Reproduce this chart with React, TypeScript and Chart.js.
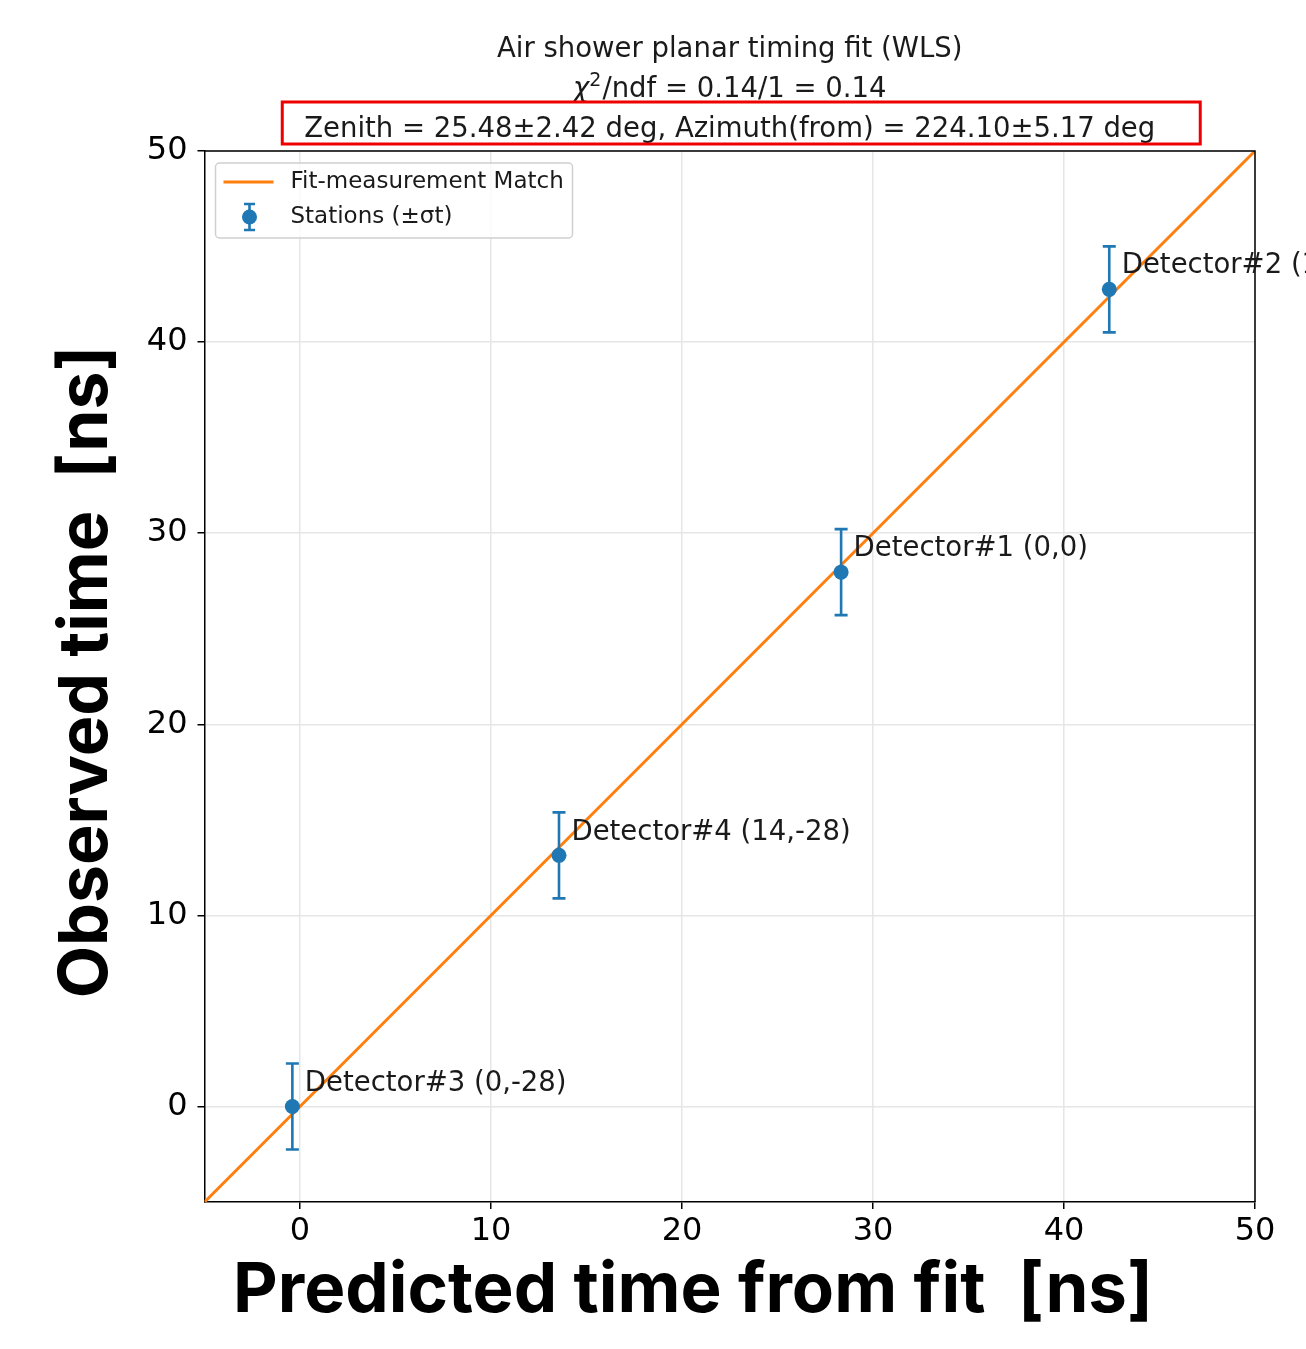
import React, { useEffect, useRef } from 'react';
import { Chart, registerables } from 'chart.js';
Chart.register(...registerables);

const predicted: number[] = [-0.4, 13.56, 28.33, 42.37];
const observed: number[] = [0.0, 13.14, 27.96, 42.76];
const sigma: number[] = [2.25, 2.25, 2.25, 2.25];
const detectorLabels: string[] = ['Detector#3 (0,-28)', 'Detector#4 (14,-28)', 'Detector#1 (0,0)', 'Detector#2 (14,0)'];
const matchLineX: number[] = [-5, 50];
const matchLineY: number[] = [-5, 50];
const tickValues: number[] = [0, 10, 20, 30, 40, 50];
const titleLine1 = 'Air shower planar timing fit (WLS)';
const chiSymbol = 'χ';
const chiSup = '2';
const chiRest = '/ndf = 0.14/1 = 0.14';
const titleLine3 = 'Zenith = 25.48±2.42 deg, Azimuth(from) = 224.10±5.17 deg';
const legendLabels: string[] = ['Fit-measurement Match', 'Stations (±σt)'];
const xTitle = 'Predicted time from fit  [ns]';
const yTitle = 'Observed time  [ns]';

const BLUE = '#1f77b4';
const ORANGE = '#ff7f0e';
const W = 1306;
const H = 1349;
const PLOT_L = 204.5;
const PLOT_R = 1255;
const PLOT_T = 151;
const PLOT_B = 1202;

export default function App() {
  const ref = useRef<HTMLCanvasElement | null>(null);
  useEffect(() => {
    const canvas = ref.current;
    if (!canvas) return;

    const drawErrorBar = (ctx: CanvasRenderingContext2D, x: number, y1: number, y2: number, cap: number, lw: number) => {
      ctx.beginPath();
      ctx.moveTo(x, y1);
      ctx.lineTo(x, y2);
      ctx.moveTo(x - cap, y1);
      ctx.lineTo(x + cap, y1);
      ctx.moveTo(x - cap, y2);
      ctx.lineTo(x + cap, y2);
      ctx.strokeStyle = BLUE;
      ctx.lineWidth = lw;
      ctx.stroke();
    };

    const deco = {
      id: 'deco',
      afterDatasetDraw(chart: any, args: any) {
        if (args.index !== 0) return;
        const ctx = chart.ctx as CanvasRenderingContext2D;
        const xs = chart.scales.x;
        const ys = chart.scales.y;
        ctx.save();
        for (let i = 0; i < predicted.length; i++) {
          const px = xs.getPixelForValue(predicted[i]);
          drawErrorBar(ctx, px, ys.getPixelForValue(observed[i] + sigma[i]), ys.getPixelForValue(observed[i] - sigma[i]), 6.5, 2.6);
        }
        ctx.restore();
      },
      afterDraw(chart: any) {
        const ctx = chart.ctx as CanvasRenderingContext2D;
        const xs = chart.scales.x;
        const ys = chart.scales.y;
        const ca = chart.chartArea;
        ctx.save();
        // spines top/right
        ctx.strokeStyle = '#000';
        ctx.lineWidth = 1.5;
        ctx.beginPath();
        ctx.moveTo(ca.left, ca.top);
        ctx.lineTo(ca.right, ca.top);
        ctx.lineTo(ca.right, ca.bottom);
        ctx.stroke();

        // annotations
        ctx.fillStyle = '#1a1a1a';
        ctx.font = '27.5px "DejaVu Sans"';
        ctx.textAlign = 'left';
        ctx.textBaseline = 'middle';
        for (let i = 0; i < predicted.length; i++) {
          const px = xs.getPixelForValue(predicted[i]);
          const py = ys.getPixelForValue(observed[i]);
          ctx.fillText(detectorLabels[i], px + 12.5, py - 23);
        }

        // title
        const cx = (ca.left + ca.right) / 2;
        ctx.fillStyle = '#1a1a1a';
        ctx.font = '27.5px "DejaVu Sans"';
        ctx.textAlign = 'center';
        ctx.textBaseline = 'alphabetic';
        ctx.fillText(titleLine1, cx, 57);
        // line 2 with superscript
        ctx.textAlign = 'left';
        ctx.font = 'italic 27.5px "DejaVu Sans"';
        const wChi = ctx.measureText(chiSymbol).width;
        ctx.font = '19px "DejaVu Sans"';
        const wSup = ctx.measureText(chiSup).width;
        ctx.font = '27.5px "DejaVu Sans"';
        const wRest = ctx.measureText(chiRest).width;
        let x0 = cx - (wChi + wSup + 1 + wRest) / 2;
        ctx.font = 'italic 27.5px "DejaVu Sans"';
        ctx.fillText(chiSymbol, x0, 97);
        x0 += wChi;
        ctx.font = '19px "DejaVu Sans"';
        ctx.fillText(chiSup, x0, 86);
        x0 += wSup + 1;
        ctx.font = '27.5px "DejaVu Sans"';
        ctx.fillText(chiRest, x0, 97);
        ctx.textAlign = 'center';
        ctx.fillText(titleLine3, cx, 137);
        const w3 = ctx.measureText(titleLine3).width;
        ctx.strokeStyle = '#ee0000';
        ctx.lineWidth = 3;
        ctx.strokeRect(cx - w3 / 2 - 22, 102, w3 + 22 + 45, 42);

        // legend
        const lx = ca.left + 11;
        const ly = ca.top + 12;
        const lw = 357;
        const lh = 75;
        ctx.beginPath();
        const r = 4;
        ctx.moveTo(lx + r, ly);
        ctx.lineTo(lx + lw - r, ly);
        ctx.arcTo(lx + lw, ly, lx + lw, ly + r, r);
        ctx.lineTo(lx + lw, ly + lh - r);
        ctx.arcTo(lx + lw, ly + lh, lx + lw - r, ly + lh, r);
        ctx.lineTo(lx + r, ly + lh);
        ctx.arcTo(lx, ly + lh, lx, ly + lh - r, r);
        ctx.lineTo(lx, ly + r);
        ctx.arcTo(lx, ly, lx + r, ly, r);
        ctx.closePath();
        ctx.fillStyle = 'rgba(255,255,255,0.8)';
        ctx.fill();
        ctx.strokeStyle = '#d0d0d0';
        ctx.lineWidth = 1.5;
        ctx.stroke();
        ctx.strokeStyle = ORANGE;
        ctx.lineWidth = 3;
        ctx.beginPath();
        ctx.moveTo(lx + 8, ly + 19);
        ctx.lineTo(lx + 58, ly + 19);
        ctx.stroke();
        drawErrorBar(ctx, lx + 34, ly + 41, ly + 67, 5.5, 2.6);
        ctx.fillStyle = BLUE;
        ctx.beginPath();
        ctx.arc(lx + 34, ly + 54, 7.5, 0, Math.PI * 2);
        ctx.fill();
        ctx.fillStyle = '#1a1a1a';
        ctx.font = '23px "DejaVu Sans"';
        ctx.textAlign = 'left';
        ctx.textBaseline = 'middle';
        ctx.fillText(legendLabels[0], lx + 75, ly + 19);
        ctx.fillText(legendLabels[1], lx + 75, ly + 54);

        // axis titles
        ctx.fillStyle = '#000';
        ctx.font = 'bold 69px Inter';
        ctx.textAlign = 'center';
        ctx.textBaseline = 'alphabetic';
        ctx.fillText(xTitle, 693, 1312);
        ctx.font = 'bold 68px Inter';
        ctx.translate(107, 672);
        ctx.rotate(-Math.PI / 2);
        ctx.fillText(yTitle, 0, 0);
        ctx.restore();
      },
    };

    const chart = new Chart(canvas, {
      type: 'scatter',
      data: {
        datasets: [
          {
            type: 'line',
            label: legendLabels[0],
            data: matchLineX.map((x, i) => ({ x, y: matchLineY[i] })),
            borderColor: ORANGE,
            borderWidth: 3,
            pointRadius: 0,
            fill: false,
            order: 2,
          } as any,
          {
            label: legendLabels[1],
            data: predicted.map((x, i) => ({ x, y: observed[i] })),
            backgroundColor: BLUE,
            borderColor: BLUE,
            pointRadius: 7.5,
            pointBorderWidth: 0,
            order: 1,
          },
        ],
      },
      options: {
        animation: false,
        responsive: false,
        devicePixelRatio: 1,
        layout: { padding: { left: 0, top: PLOT_T, right: W - PLOT_R, bottom: 0 } },
        plugins: { legend: { display: false }, tooltip: { enabled: false }, title: { display: false } },
        scales: {
          x: {
            type: 'linear',
            min: -5,
            max: 50,
            afterFit: (s: any) => { s.height = H - PLOT_B; },
            afterBuildTicks: (s: any) => { s.ticks = tickValues.map((v) => ({ value: v })); },
            grid: { color: '#e6e6e6', lineWidth: 1.5, tickColor: '#000', tickLength: 7, tickWidth: 1.5 },
            border: { color: '#000', width: 1.5 },
            ticks: { color: '#000', font: { family: 'DejaVu Sans', size: 32 }, padding: 3, autoSkip: false, maxRotation: 0 },
          },
          y: {
            type: 'linear',
            min: -5,
            max: 50,
            afterFit: (s: any) => { s.width = PLOT_L; },
            afterBuildTicks: (s: any) => { s.ticks = tickValues.map((v) => ({ value: v })); },
            grid: { color: '#e6e6e6', lineWidth: 1.5, tickColor: '#000', tickLength: 7, tickWidth: 1.5 },
            border: { color: '#000', width: 1.5 },
            ticks: { color: '#000', font: { family: 'DejaVu Sans', size: 32 }, padding: 10, autoSkip: false },
          },
        },
      },
      plugins: [deco],
    });
    return () => chart.destroy();
  }, []);

  return (
    <div style={{ position: 'absolute', left: 0, top: 0, width: W, height: H }}>
      <canvas ref={ref} width={W} height={H} style={{ width: W, height: H, display: 'block' }} />
    </div>
  );
}
